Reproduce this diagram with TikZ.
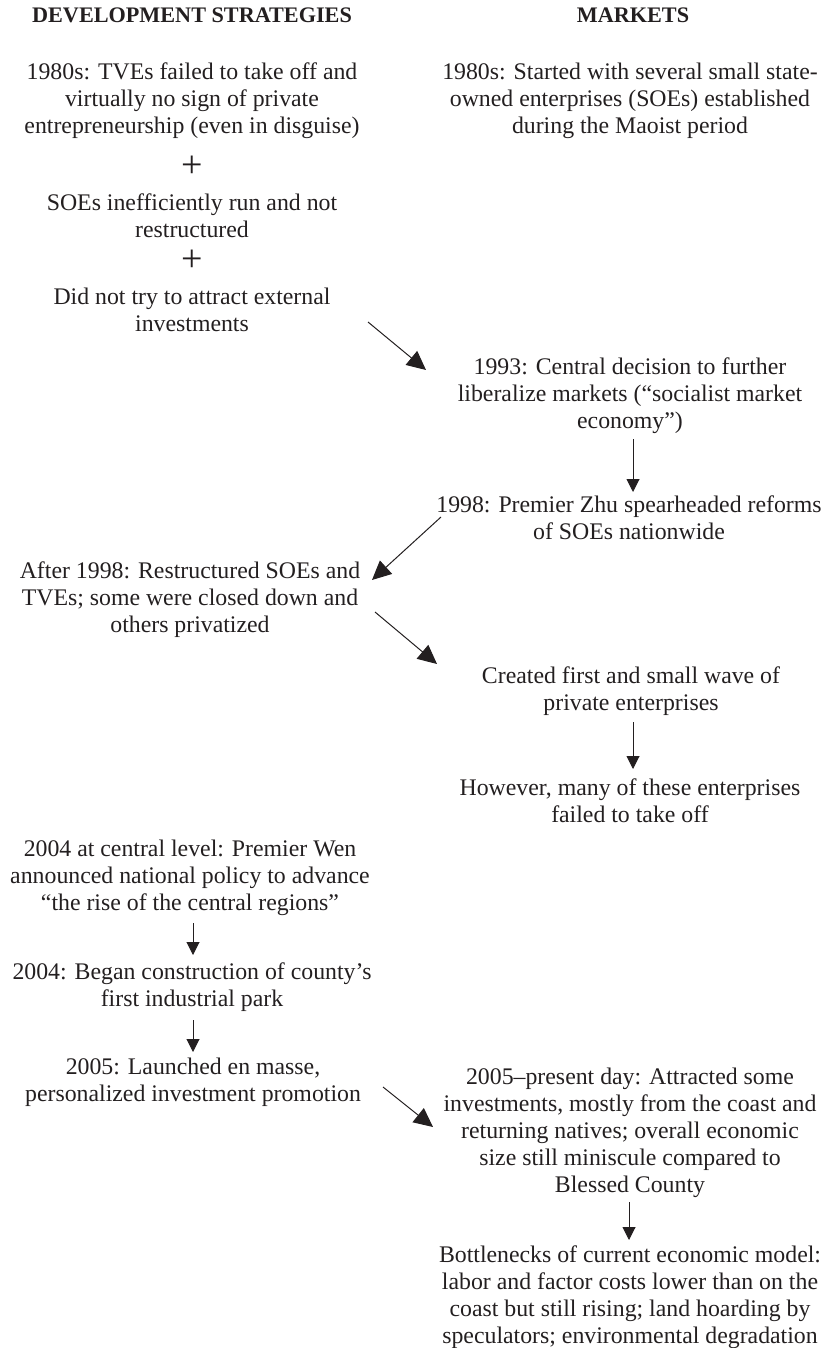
\documentclass[tikz,border=0pt]{standalone}
\usepackage{fontspec}
\setmainfont{Liberation Serif}
\usetikzlibrary{arrows.meta}
\definecolor{ink}{HTML}{231F20}
\begin{document}
\begin{tikzpicture}[x=1pt,y=1pt,
  txt/.style={inner sep=0pt,align=center,text=ink,font=\fontsize{23.8}{26.9}\selectfont},
  hdr/.style={inner sep=0pt,text=ink,font=\fontsize{22.2}{24}\selectfont\bfseries},
  plus/.style={inner sep=0pt,text=ink,font=\fontsize{38}{38}\selectfont},
  darr/.style={draw=ink,line width=1pt,-{Triangle[length=19pt,width=18pt]}},
  varr/.style={draw=ink,line width=1pt,-{Triangle[length=13pt,width=13pt]}}]
\useasboundingbox (0,0) rectangle (827,-1348);
% headers
\node[hdr] (hL) at (192,-15) {DEVELOPMENT STRATEGIES};
\node[hdr] (hR) at (633,-15) {MARKETS};
% left column
\node[txt] (L1) at (192,-101) {1980s: TVEs failed to take off and\\virtually no sign of private\\entrepreneurship (even in disguise)};
\node[plus] (p1) at (192,-167) {+};
\node[txt] (L2) at (192,-216) {SOEs inefficiently run and not\\restructured};
\node[plus] (p2) at (192,-261) {+};
\node[txt] (L3) at (192,-310) {Did not try to attract external\\investments};
\node[txt] (L4) at (190,-600) {After 1998: Restructured SOEs and\\TVEs; some were closed down and\\others privatized};
\node[txt] (L5) at (190,-878) {2004 at central level: Premier Wen\\announced national policy to advance\\“the rise of the central regions”};
\node[txt] (L6) at (192,-987) {2004: Began construction of county’s\\first industrial park};
\node[txt] (L7) at (193,-1082) {2005: Launched en masse,\\personalized investment promotion};
% right column
\node[txt] (R1) at (630,-101) {1980s: Started with several small state-\\owned enterprises (SOEs) established\\during the Maoist period};
\node[txt] (R2) at (630,-396) {1993: Central decision to further\\liberalize markets (“socialist market\\economy”)};
\node[txt] (R3) at (629,-518) {1998: Premier Zhu spearheaded reforms\\of SOEs nationwide};
\node[txt] (R4) at (631,-691) {Created first and small wave of\\private enterprises};
\node[txt] (R5) at (630,-801) {However, many of these enterprises\\failed to take off};
\node[txt] (R6) at (630,-1133) {2005–present day: Attracted some\\investments, mostly from the coast and\\returning natives; overall economic\\size still miniscule compared to\\Blessed County};
\node[txt] (R7) at (630,-1297) {Bottlenecks of current economic model:\\labor and factor costs lower than on the\\coast but still rising; land hoarding by\\speculators; environmental degradation};
% connectors
\draw[darr] ([shift={(176,-12)}]L3.center) -- ([shift={(-204,26)}]R2.center);
\draw[varr] ([shift={(3,-43)}]R2.center) -- ([shift={(4,26)}]R3.center);
\draw[darr] ([shift={(-188,1)}]R3.center) -- ([shift={(182,20)}]L4.center);
\draw[darr] ([shift={(185,-12)}]L4.center) -- ([shift={(-194,27)}]R4.center);
\draw[varr] ([shift={(2,-31)}]R4.center) -- ([shift={(3,32)}]R5.center);
\draw[varr] ([shift={(3,-45)}]L5.center) -- ([shift={(1,32)}]L6.center);
\draw[varr] ([shift={(1,-33)}]L6.center) -- ([shift={(0,30)}]L7.center);
\draw[darr] ([shift={(190,-5)}]L7.center) -- ([shift={(-197,6)}]R6.center);
\draw[varr] ([shift={(-1,-69)}]R6.center) -- ([shift={(-1,57)}]R7.center);
\end{tikzpicture}
\end{document}
